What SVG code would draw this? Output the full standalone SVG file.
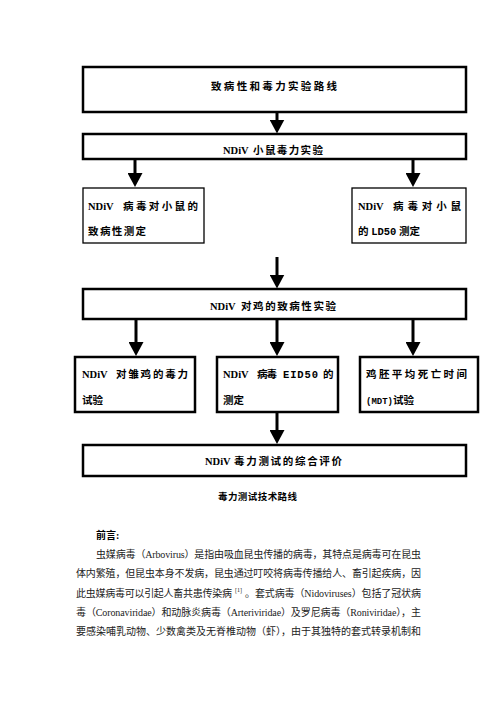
<svg xmlns="http://www.w3.org/2000/svg" width="496" height="702" viewBox="0 0 496 702">
<style>
.bx{fill:#fff;stroke:#000;stroke-width:2.5}
.bt{fill:#fff;stroke:#000;stroke-width:1.3}
.t{font-family:"Liberation Serif","Noto Sans CJK SC",serif;font-weight:bold;font-size:10.5px;fill:#000}
.m{font-family:"Liberation Mono","Noto Sans CJK SC",monospace;font-weight:bold}
.p{font-family:"Liberation Serif","Noto Sans CJK SC",serif;font-size:10px;fill:#222}
.c{stroke:#000;stroke-width:3;fill:none}
</style>
<defs>
<marker id="ah" markerUnits="userSpaceOnUse" markerWidth="14" markerHeight="15" viewBox="0 0 14 15" refX="4" refY="7.5" orient="auto">
<path d="M0,0 L14,7.5 L0,15 z" fill="#000"/>
</marker>
</defs>
<rect width="496" height="702" fill="#fff"/>
<g id="connectors">
<line class="c" x1="277" y1="112" x2="277" y2="123.5" marker-end="url(#ah)"/>
<line class="c" x1="135" y1="159" x2="135" y2="177" marker-end="url(#ah)"/>
<line class="c" x1="413" y1="159" x2="413" y2="177" marker-end="url(#ah)"/>
<line class="c" x1="277" y1="257" x2="277" y2="278.5" marker-end="url(#ah)"/>
<line class="c" x1="136" y1="319" x2="136" y2="346" marker-end="url(#ah)"/>
<line class="c" x1="277" y1="319" x2="277" y2="346" marker-end="url(#ah)"/>
<line class="c" x1="413" y1="319" x2="413" y2="346" marker-end="url(#ah)"/>
<line class="c" x1="277" y1="413" x2="277" y2="434" marker-end="url(#ah)"/>
</g>
<g id="n1">
<rect class="bx" x="83" y="67" width="383" height="45"/>
<text class="t" x="211" y="89.5" textLength="126" lengthAdjust="spacing">致病性和毒力实验路线</text>
</g>
<g id="n2">
<rect class="bx" x="83" y="134" width="383" height="25"/>
<text class="t" x="223" y="154">NDiV</text>
<text class="t" x="253" y="154" textLength="70" lengthAdjust="spacing">小鼠毒力实验</text>
</g>
<g id="n3">
<rect class="bt" x="83" y="188" width="121" height="55"/>
<text class="t" x="88" y="210">NDiV</text>
<text class="t" x="123" y="210" textLength="75" lengthAdjust="spacing">病毒对小鼠的</text>
<text class="t" x="88" y="235" textLength="58" lengthAdjust="spacing">致病性测定</text>
</g>
<g id="n4">
<rect class="bt" x="352" y="188" width="114" height="55"/>
<text class="t" x="358" y="210">NDiV</text>
<text class="t" x="393" y="210" textLength="68" lengthAdjust="spacing">病毒对小鼠</text>
<text class="t" x="358" y="235">的 <tspan class="m">LD50</tspan> 测定</text>
</g>
<g id="n5">
<rect class="bx" x="83" y="289" width="383" height="30"/>
<text class="t" x="210" y="309.5">NDiV</text>
<text class="t" x="241" y="309.5" textLength="95" lengthAdjust="spacing">对鸡的致病性实验</text>
</g>
<g id="n6">
<rect class="bx" x="75" y="357" width="120" height="55"/>
<text class="t" x="82" y="377.5">NDiV</text>
<text class="t" x="116" y="377.5" textLength="72" lengthAdjust="spacing">对雏鸡的毒力</text>
<text class="t" x="82" y="404">试验</text>
</g>
<g id="n7">
<rect class="bx" x="217" y="357" width="121" height="55"/>
<text class="t" x="223" y="377.5">NDiV</text>
<text class="t" x="257" y="377.5" textLength="20" lengthAdjust="spacing">病毒</text>
<text class="t m" x="283" y="377.5" textLength="35" lengthAdjust="spacing">EID50</text>
<text class="t" x="323" y="377.5">的</text>
<text class="t" x="223" y="404">测定</text>
</g>
<g id="n8">
<rect class="bx" x="360" y="357" width="118" height="55"/>
<text class="t" x="366" y="377.5" textLength="101" lengthAdjust="spacing">鸡胚平均死亡时间</text>
<text class="t" x="366" y="404"><tspan class="m" style="font-size:9px">(MDT)</tspan>试验</text>
</g>
<g id="n9">
<rect class="bx" x="83" y="445" width="383" height="31"/>
<text class="t" x="205" y="465">NDiV</text>
<text class="t" x="234" y="465" textLength="108" lengthAdjust="spacing">毒力测试的综合评价</text>
</g>
<text class="t" x="218" y="500" style="font-size:9.5px" textLength="79" lengthAdjust="spacing">毒力测试技术路线</text>
<text class="t" x="96" y="539" style="font-size:10px">前言:</text>
<text class="p" x="96" y="558" textLength="325" lengthAdjust="spacing">虫媒病毒（Arbovirus）是指由吸血昆虫传播的病毒，其特点是病毒可在昆虫</text>
<text class="p" x="76" y="577" textLength="345" lengthAdjust="spacing">体内繁殖，但昆虫本身不发病，昆虫通过叮咬将病毒传播给人、畜引起疾病，因</text>
<text class="p" x="76" y="596.5" textLength="156" lengthAdjust="spacing">此虫媒病毒可以引起人畜共患传染病</text>
<text class="p" x="235" y="592" style="font-size:6px">[1]</text>
<text class="p" x="245" y="596.5" textLength="176" lengthAdjust="spacing">。套式病毒（Nidoviruses）包括了冠状病</text>
<text class="p" x="76" y="616" textLength="345" lengthAdjust="spacing">毒（Coronaviridae）和动脉炎病毒（Arteriviridae）及罗尼病毒（Roniviridae），主</text>
<text class="p" x="76" y="635" textLength="345" lengthAdjust="spacing">要感染哺乳动物、少数禽类及无脊椎动物（虾），由于其独特的套式转录机制和</text>
</svg>
